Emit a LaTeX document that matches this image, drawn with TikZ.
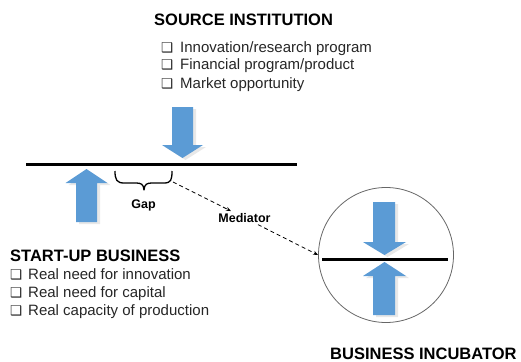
\documentclass[tikz,border=0pt]{standalone}
\usepackage{fontspec}
\setmainfont{Liberation Sans}
\newfontfamily\dvfont{DejaVu Sans}
\usetikzlibrary{arrows.meta}
\definecolor{arrowblue}{HTML}{5B9BD5}
\newcommand{\cbx}[1]{\makebox[#1][l]{\dvfont\fontsize{13.5}{14}\selectfont ❑}}
\tikzset{
  blockarr/.style={fill=arrowblue, draw=none},
  blockshadow/.style={fill=black!9, draw=none},
  title/.style={font=\fontsize{16.5}{18}\selectfont\bfseries, inner sep=0pt, anchor=base west},
  item/.style={font=\fontsize{15}{17}\selectfont, inner sep=0pt, anchor=base west, text=black!85},
  lbl/.style={font=\fontsize{12.5}{14}\selectfont\bfseries, inner sep=2pt, anchor=base},
  bar/.style={line width=3pt},
  dasharr/.style={dash pattern=on 4pt off 3pt, line width=0.8pt, -{Stealth[length=5pt,width=4pt]}},
}
\begin{document}
\begin{tikzpicture}[x=1pt,y=-1pt]
\useasboundingbox (0,0) rectangle (521,361);

% source institution
\node[title] (src) at (154,26) {SOURCE INSTITUTION};
\node[item] (s1) at (161,52.5) {\cbx{19pt}Innovation/research program};
\node[item] (s2) at (161,70) {\cbx{19pt}Financial program/product};
\node[item] (s3) at (161,88) {\cbx{19pt}Market opportunity};

% start-up business
\node[title] (sub) at (10,261.5) {START-UP BUSINESS};
\node[item] (b1) at (10,279.5) {\cbx{18pt}Real need for innovation};
\node[item] (b2) at (10,297) {\cbx{18pt}Real need for capital};
\node[item] (b3) at (10,315.5) {\cbx{18pt}Real capacity of production};

% business incubator
\node[title] (incl) at (330,359) {BUSINESS INCUBATOR};
\node[circle, draw=black!60, line width=0.8pt, minimum size=135pt, inner sep=0pt] (inc) at (386,255) {};

% main line
\coordinate (L1) at (26,164);
\coordinate (L2) at (297,164);
\draw[bar] (L1) -- (L2);

% arrows outside
\fill[blockshadow, shift={(3,2)}] (172,107) -- (193,107) -- (193,145) -- (203,145) -- (182.5,158) -- (162,145) -- (172,145) -- cycle;
\fill[blockarr] (172,107) -- (193,107) -- (193,145) -- (203,145) -- (182.5,158) -- (162,145) -- (172,145) -- cycle;
\fill[blockshadow, shift={(3,2)}] (76,222) -- (97,222) -- (97,183) -- (107.5,183) -- (86.5,169) -- (65.5,183) -- (76,183) -- cycle;
\fill[blockarr] (76,222) -- (97,222) -- (97,183) -- (107.5,183) -- (86.5,169) -- (65.5,183) -- (76,183) -- cycle;

% inside circle
\draw[bar] (322,259) -- (448,259);
\fill[blockshadow, shift={(3,2)}] (373,202) -- (395,202) -- (395,242) -- (406,242) -- (384.5,255) -- (363,242) -- (373,242) -- cycle;
\fill[blockarr] (373,202) -- (395,202) -- (395,242) -- (406,242) -- (384.5,255) -- (363,242) -- (373,242) -- cycle;
\fill[blockshadow, shift={(3,2)}] (373,315) -- (395,315) -- (395,276) -- (406,276) -- (384.5,262) -- (363,276) -- (373,276) -- cycle;
\fill[blockarr] (373,315) -- (395,315) -- (395,276) -- (406,276) -- (384.5,262) -- (363,276) -- (373,276) -- cycle;

% brace and gap
\draw[line width=1.3pt, line join=round] (115,171) .. controls (115,180) and (117,183) .. (124,183) -- (136,183)
  .. controls (141,183) and (143.5,184) .. (144,190)
  .. controls (144.5,184) and (147,183) .. (152,183) -- (164,183)
  .. controls (171,183) and (172,180) .. (172,171);
\node[lbl] (gap) at (143.5,208) {Gap};
\coordinate (gapR) at (173,182);

% mediator
\node[lbl] (med) at (244.5,222.3) {Mediator};
\draw[dasharr] (gapR) -- (med);
\draw[dasharr] (med) -- (inc.west);
\end{tikzpicture}
\end{document}
